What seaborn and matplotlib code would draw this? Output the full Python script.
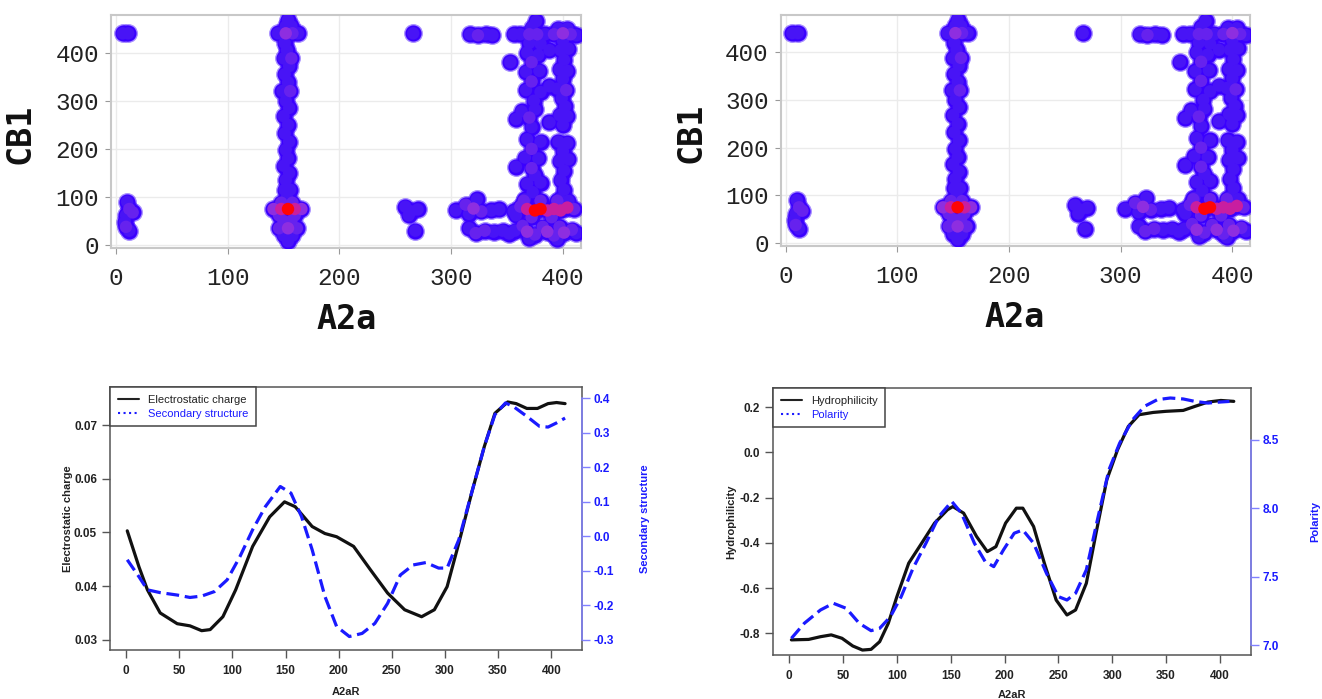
import pandas as pd
import seaborn as sns
import matplotlib.pyplot as plt
from matplotlib.lines import Line2D
from matplotlib.ticker import FormatStrFormatter

# contact map: A2a residue, CB1 residue, contact level (1 = sparse ... 5 = dense)
a2a_res = [
    6, 11, 10, 12, 15, 9, 8, 9, 12,
    154, 150, 158, 146, 154, 162, 150, 157, 146, 160, 141, 148, 154, 160, 166,
    148, 158, 153, 151, 156, 152, 155, 150, 154, 152, 155, 151, 154, 150, 155,
    152, 149, 156, 154, 151, 155, 150, 157, 153, 151, 145, 152, 158, 163, 152, 157, 154,
    266, 259, 264, 270, 262, 268, 317, 324, 331, 337, 353,
    304, 313, 320, 327, 316, 336, 343, 323, 316, 322, 330, 338, 346, 352,
    356, 362, 370, 377, 384, 392, 400, 407, 412, 376, 372, 396, 404,
    370, 380, 368, 378, 372, 367, 379, 372, 367, 380, 374, 363, 375, 358, 370,
    372, 368, 380, 372, 366, 378, 358, 372, 375, 368, 380, 373, 366,
    400, 398, 405, 401, 397, 404, 400, 395, 403, 399, 402, 397, 404, 400,
    396, 404, 400, 397, 405, 401, 398, 401, 397,
    388, 388, 388,
    356, 362, 368, 375, 380, 386, 392, 398, 404, 410, 365, 380, 395, 405, 372, 390, 358,
    357, 364, 368, 375, 382, 386, 392, 397, 401, 408, 412, 370, 395,
]
cb1_res = [
    440, 440, 90, 75, 68, 62, 48, 38, 30,
    8, 20, 20, 35, 35, 35, 50, 50, 62, 62, 75, 75, 75, 75, 75,
    88, 88, 100, 115, 115, 135, 150, 165, 180, 198, 215, 232, 250, 268, 285,
    300, 320, 320, 338, 355, 372, 388, 388, 405, 420, 440, 440, 440, 440, 455, 455, 468,
    440, 80, 70, 74, 62, 30, 438, 436, 438, 436, 380,
    72, 84, 76, 70, 65, 72, 74, 95, 35, 25, 30, 28, 30, 24,
    438, 438, 438, 438, 438, 438, 440, 438, 436, 465, 452, 450, 450,
    420, 418, 400, 395, 380, 360, 362, 340, 322, 318, 300, 278, 282, 262, 265,
    245, 220, 215, 200, 182, 180, 163, 160, 145, 128, 130, 110, 95,
    425, 405, 408, 385, 365, 362, 345, 325, 322, 305, 288, 270, 268, 250,
    215, 212, 195, 175, 178, 155, 135, 115, 95,
    330, 255, 405,
    70, 80, 75, 72, 75, 72, 75, 72, 78, 75, 92, 92, 92, 92, 58, 58, 62,
    30, 40, 28, 22, 38, 28, 20, 38, 26, 32, 25, 14, 12,
]
contact_level = [
    1, 1, 1, 2, 2, 1, 1, 2, 1,
    1, 1, 1, 2, 3, 2, 2, 2, 2, 2, 3, 4, 5, 4, 3,
    2, 2, 1, 1, 1, 1, 1, 1, 1, 1, 1, 1, 1, 1, 1,
    1, 1, 2, 1, 1, 1, 1, 2, 1, 1, 1, 3, 2, 1, 1, 1, 1,
    1, 1, 1, 1, 1, 1, 1, 2, 1, 1, 1,
    1, 2, 3, 2, 1, 1, 1, 1, 1, 2, 2, 1, 1, 1,
    1, 1, 2, 2, 1, 2, 3, 2, 1, 1, 1, 1, 1,
    1, 1, 1, 1, 2, 1, 1, 2, 1, 1, 1, 1, 1, 1, 2,
    1, 1, 1, 2, 1, 1, 1, 2, 1, 1, 1, 1, 1,
    1, 1, 1, 1, 1, 1, 1, 1, 2, 1, 1, 1, 1, 1,
    1, 1, 1, 1, 1, 1, 1, 1, 1,
    1, 1, 1,
    1, 2, 4, 5, 5, 4, 4, 4, 4, 2, 2, 2, 2, 1, 2, 2, 1,
    1, 2, 3, 2, 2, 3, 2, 2, 3, 2, 1, 1, 1,
]
level_colors = {1: '#4814f6', 2: '#6622ee', 3: '#8e2ee0', 4: '#c81ea0', 5: '#ff0505'}

# profiles along A2aR
charge_res = [1, 12, 20, 32, 48, 60, 71, 79, 91, 103, 119, 135, 149, 159, 175, 187, 198, 214,
              230, 246, 262, 278, 290, 302, 313, 325, 337, 347, 359, 367, 377, 387, 397, 405, 413]
charge = [0.0503, 0.0436, 0.0393, 0.0350, 0.0330, 0.0326, 0.0317, 0.0319, 0.0343, 0.0393,
          0.0474, 0.0529, 0.0557, 0.0548, 0.0511, 0.0498, 0.0492, 0.0474, 0.0430, 0.0387,
          0.0356, 0.0343, 0.0356, 0.0399, 0.0480, 0.0573, 0.0660, 0.0722, 0.0743, 0.0740,
          0.0731, 0.0731, 0.0740, 0.0742, 0.0740]
ss_res = [1, 12, 20, 32, 48, 60, 71, 83, 95, 107, 119, 131, 145, 155, 165, 175, 187, 198, 210,
          222, 234, 246, 258, 270, 282, 294, 302, 313, 325, 337, 347, 357, 365, 377, 389, 397,
          405, 413]
sec_struct = [-0.068, -0.117, -0.155, -0.163, -0.170, -0.177, -0.173, -0.160, -0.126, -0.059,
              0.019, 0.086, 0.144, 0.125, 0.057, -0.039, -0.174, -0.261, -0.290, -0.281,
              -0.252, -0.194, -0.112, -0.083, -0.076, -0.092, -0.092, -0.010, 0.125, 0.260,
              0.352, 0.386, 0.374, 0.347, 0.318, 0.316, 0.328, 0.342]
hydro_res = [2, 18, 29, 39, 49, 59, 68, 76, 84, 92, 100, 111, 123, 135, 147, 152, 162, 174, 184,
             192, 201, 211, 217, 227, 237, 248, 258, 266, 276, 285, 295, 305, 315, 325, 338,
             350, 366, 377, 389, 401, 413]
hydro = [-0.829, -0.827, -0.815, -0.807, -0.822, -0.856, -0.874, -0.871, -0.837, -0.756,
         -0.638, -0.490, -0.402, -0.313, -0.254, -0.240, -0.269, -0.372, -0.439, -0.417,
         -0.313, -0.247, -0.247, -0.328, -0.490, -0.653, -0.719, -0.697, -0.579, -0.358,
         -0.122, 0.011, 0.114, 0.166, 0.176, 0.181, 0.185, 0.203, 0.222, 0.229, 0.225]
pol_res = [2, 14, 29, 41, 53, 65, 76, 84, 94, 104, 115, 127, 139, 151, 160, 172, 182, 190, 199,
           209, 217, 227, 239, 250, 258, 266, 276, 287, 297, 307, 319, 330, 342, 354, 366, 377,
           389, 401, 409]
polarity = [7.049, 7.159, 7.256, 7.305, 7.268, 7.159, 7.105, 7.122, 7.207, 7.354, 7.561, 7.744,
            7.939, 8.049, 7.963, 7.744, 7.610, 7.573, 7.695, 7.817, 7.841, 7.744, 7.524, 7.354,
            7.329, 7.378, 7.549, 7.939, 8.280, 8.476, 8.646, 8.744, 8.793, 8.805, 8.798, 8.780,
            8.768, 8.776, 8.780]

sns.set_style('white')
plt.rcParams['font.family'] = ['Liberation Sans', 'DejaVu Sans']
plt.rcParams['axes.unicode_minus'] = False


def draw_contacts(ax, ylab_x, xlab_xy):
    df = pd.DataFrame({'A2a': a2a_res, 'CB1': cb1_res, 'level': contact_level})
    df = df.sort_values('level', kind='stable')
    # blurred blue rim, then solid core coloured by level
    sns.scatterplot(data=df, x='A2a', y='CB1', color='#3a00ff', s=185, alpha=0.45,
                    linewidth=0, legend=False, ax=ax, zorder=3)
    sns.scatterplot(data=df, x='A2a', y='CB1', color='#3a00ff', s=135,
                    linewidth=0, legend=False, ax=ax, zorder=3)
    sns.scatterplot(data=df, x='A2a', y='CB1', hue='level', palette=level_colors, s=80,
                    linewidth=0, legend=False, ax=ax, zorder=4)
    ax.set_xlim(-4, 416)
    ax.set_ylim(-6, 478)
    ax.set_xticks([0, 100, 200, 300, 400])
    ax.set_yticks([0, 100, 200, 300, 400])
    ax.grid(True, color='#ebebeb', lw=1)
    ax.set_axisbelow(True)
    for sp in ax.spines.values():
        sp.set_color('#c8c8c8')
        sp.set_linewidth(1.5)
    ax.tick_params(axis='x', length=4, color='#999999', pad=10, bottom=True)
    ax.tick_params(axis='y', length=4, color='#999999', pad=5, left=True)
    for lab in ax.get_xticklabels() + ax.get_yticklabels():
        lab.set_fontfamily('Liberation Mono')
        lab.set_fontsize(17.5)
        lab.set_color('#222222')
    ax.set_xlabel('A2a', fontsize=24, fontweight='bold', family='DejaVu Sans Mono',
                  color='#111111')
    ax.set_ylabel('CB1', fontsize=24, fontweight='bold', family='DejaVu Sans Mono',
                  color='#111111')
    ax.xaxis.set_label_coords(*xlab_xy)
    ax.yaxis.set_label_coords(ylab_x, 0.49)


def draw_profile(ax, x1, y1, x2, y2, lim1, lim2, ticks1, ticks2, fmt1, fmt2, name1, name2,
                 label_x, xlab_y):
    ax2 = ax.twinx()
    sns.lineplot(x=x1, y=y1, ax=ax, color='#111111', lw=2.3, sort=False, zorder=3)
    sns.lineplot(x=x2, y=y2, ax=ax2, color='#1a1aff', lw=2.3, sort=False, linestyle='--')
    ax2.lines[-1].set_dashes([4, 1.8])
    ax.set_xlim(-15, 429)
    ax.set_ylim(*lim1)
    ax2.set_ylim(*lim2)
    ax.set_xticks(range(0, 401, 50))
    ax.set_yticks(ticks1)
    ax2.set_yticks(ticks2)
    ax.yaxis.set_major_formatter(FormatStrFormatter(fmt1))
    ax2.yaxis.set_major_formatter(FormatStrFormatter(fmt2))
    for sp in ax.spines.values():
        sp.set_color('#555555')
        sp.set_linewidth(1.1)
    for sp in ax2.spines.values():
        sp.set_visible(False)
    ax2.spines['right'].set_visible(True)
    ax2.spines['right'].set_color('#8080ff')
    ax2.spines['right'].set_linewidth(1.1)
    ax2.spines['right'].set_bounds(ticks2[0], ticks2[-1])
    ax.tick_params(axis='both', length=5.5, width=1, color='#555555', labelsize=8.5,
                   bottom=True, left=True, direction='out')
    ax.tick_params(axis='x', pad=5)
    ax.tick_params(axis='y', pad=4)
    ax2.tick_params(axis='y', length=5.5, width=1, color='#8080ff', labelcolor='#1a1aff',
                    labelsize=8.5, right=True, direction='out', pad=3)
    for lab in ax.get_xticklabels() + ax.get_yticklabels() + ax2.get_yticklabels():
        lab.set_fontweight('bold')
    for lab in ax.get_xticklabels() + ax.get_yticklabels():
        lab.set_color('#222222')
    ax.set_xlabel('A2aR', fontsize=8, fontweight='bold', color='#222222')
    ax.xaxis.set_label_coords(0.5, xlab_y)
    ax.set_ylabel(name1, fontsize=8, fontweight='bold', color='#222222')
    ax.yaxis.set_label_coords(label_x[0], 0.5)
    ax2.set_ylabel(name2, fontsize=8, fontweight='bold', color='#1a1aff')
    ax2.yaxis.set_label_coords(label_x[1], 0.5)
    handles = [Line2D([], [], color='#222222', lw=1.5),
               Line2D([], [], color='#1a1aff', lw=1.5, linestyle=':')]
    leg = ax2.legend(handles, [name1, name2], loc='upper left', bbox_to_anchor=(0, 1),
                     borderaxespad=0, fancybox=False, edgecolor='#444444', framealpha=1,
                     fontsize=8, handlelength=1.9, borderpad=0.7, labelspacing=0.35,
                     labelcolor=['#222222', '#1a1aff'])
    leg.get_frame().set_linewidth(1.1)


fig = plt.figure(figsize=(13.22, 6.99), dpi=100)
ax_tl = fig.add_axes([0.0843, 0.6452, 0.3550, 0.3333])
ax_tr = fig.add_axes([0.5909, 0.6481, 0.3548, 0.3305])
ax_bl = fig.add_axes([0.0834, 0.0701, 0.3569, 0.3763])
ax_br = fig.add_axes([0.5848, 0.0629, 0.3615, 0.3820])

draw_contacts(ax_tl, -0.159, (0.502, -0.234))
draw_contacts(ax_tr, -0.156, (0.498, -0.238))

draw_profile(ax_bl, charge_res, charge, ss_res, sec_struct,
             (0.0281, 0.0771), (-0.329, 0.432),
             [0.03, 0.04, 0.05, 0.06, 0.07], [-0.3, -0.2, -0.1, 0.0, 0.1, 0.2, 0.3, 0.4],
             '%.2f', '%.1f', 'Electrostatic charge', 'Secondary structure',
             (-0.079, 1.123), -0.141)
draw_profile(ax_br, hydro_res, hydro, pol_res, polarity,
             (-0.896, 0.284), (6.927, 8.878),
             [-0.8, -0.6, -0.4, -0.2, 0.0, 0.2], [7.0, 7.5, 8.0, 8.5],
             '%.1f', '%.1f', 'Hydrophilicity', 'Polarity',
             (-0.078, 1.123), -0.131)

fig.savefig('out.png', dpi=100)
